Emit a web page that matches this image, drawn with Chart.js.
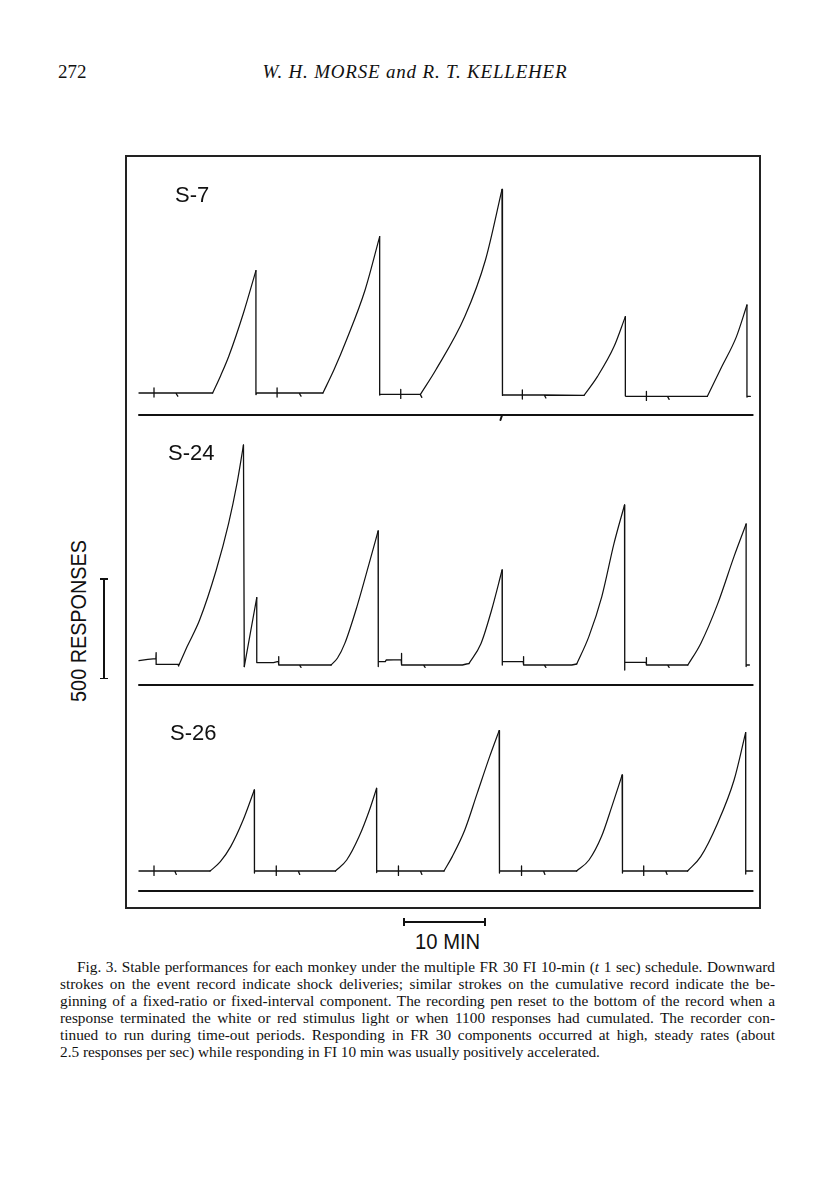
<!DOCTYPE html>
<html>
<head>
<meta charset="utf-8">
<script src="https://cdn.jsdelivr.net/npm/chart.js@4.4.1/dist/chart.umd.min.js"></script>
<style>
  body { margin: 0; background: #fff; }
  #page { position: relative; width: 816px; height: 1200px; overflow: hidden; color: #111; font-family: "Liberation Serif", serif; }
  .abs { position: absolute; }
  #folio { left: 58px; top: 62px; font-size: 19px; line-height: 1; }
  #running { left: 0; width: 830px; top: 62px; text-align: center; font-size: 19px; line-height: 1; font-style: italic; letter-spacing: 0.8px; }
  #frame { left: 125px; top: 155px; width: 636px; height: 754px; border: 2px solid #222; box-sizing: border-box; }
  .subject { font-family: "Liberation Sans", Arial, sans-serif; font-size: 22px; line-height: 1; }
  #ylabel { left: 79px; top: 621px; font-family: "Liberation Sans", Arial, sans-serif; font-size: 22px; line-height: 1; white-space: nowrap;
            transform: translate(-50%, -50%) rotate(-90deg) scaleX(0.9); }
  #xlabel { left: 415px; top: 931px; font-family: "Liberation Sans", Arial, sans-serif; font-size: 22px; line-height: 1; white-space: nowrap;
            transform: scaleX(0.92); transform-origin: left top; }
  .bar { background: #111; }
  #caption { left: 60px; top: 958px; width: 715px; font-size: 15.3px; line-height: 17px; }
  #caption div { white-space: nowrap; text-align: justify; text-align-last: justify; }
  #caption div.last { text-align-last: left; }
</style>
</head>
<body>
<div id="page">
  <div id="folio" class="abs">272</div>
  <div id="running" class="abs">W. H. MORSE and R. T. KELLEHER</div>

  <div id="frame" class="abs"></div>
  <canvas id="chart-s7" class="abs" width="635" height="270" style="left:125px;top:155px"></canvas>
  <canvas id="chart-s24" class="abs" width="635" height="265" style="left:125px;top:425px"></canvas>
  <canvas id="chart-s26" class="abs" width="635" height="215" style="left:125px;top:690px"></canvas>

  <div class="abs subject" style="left:175px;top:184px">S-7</div>
  <div class="abs subject" style="left:168px;top:442px">S-24</div>
  <div class="abs subject" style="left:170px;top:722px">S-26</div>

  <div id="ylabel" class="abs">500 RESPONSES</div>
  <div class="abs bar" style="left:103px;top:579px;width:1.5px;height:100px"></div>
  <div class="abs bar" style="left:100px;top:578px;width:8px;height:1.5px"></div>
  <div class="abs bar" style="left:100px;top:677.5px;width:8px;height:1.5px"></div>

  <div class="abs bar" style="left:403px;top:921px;width:82px;height:1.5px"></div>
  <div class="abs bar" style="left:403px;top:918px;width:1.5px;height:8px"></div>
  <div class="abs bar" style="left:484px;top:918px;width:1.5px;height:8px"></div>
  <div id="xlabel" class="abs">10 MIN</div>

  <div id="caption" class="abs">
    <div style="padding-left:17px">Fig. 3. Stable performances for each monkey under the multiple FR 30 FI 10-min (<i>t</i> 1 sec) schedule. Downward</div>
    <div>strokes on the event record indicate shock deliveries; similar strokes on the cumulative record indicate the be-</div>
    <div>ginning of a fixed-ratio or fixed-interval component. The recording pen reset to the bottom of the record when a</div>
    <div>response terminated the white or red stimulus light or when 1100 responses had cumulated. The recorder con-</div>
    <div>tinued to run during time-out periods. Responding in FR 30 components occurred at high, steady rates (about</div>
    <div class="last">2.5 responses per sec) while responding in FI 10 min was usually positively accelerated.</div>
  </div>
</div>

<script>
// Cumulative records, [minutes, cumulative responses].
// "ramps" = responding within a component (pen climbs), "gaps" = pen at the
// bottom after a reset, with the small strokes marking component starts.

// S-7
const s7Ramps = [
  [[8.98, 0], [9.97, 88], [10.96, 185], [12.74, 400], [14.26, 612]],
  [[22.43, 0], [23.82, 120], [25.3, 265], [27.57, 515], [29.35, 782]],
  [[34.32, -7], [36.19, 115], [39.73, 382], [42.25, 665], [44.27, 1018]],
  [[54.27, -12], [55.9, 82], [57.93, 232], [59.31, 382]],
  [[69.3, -17], [71.08, 132], [72.86, 282], [74.14, 440]]
];
const s7Gaps = [
  [[0, 0], [1.83, 0], [1.83, 25], [1.83, -20], [1.83, 0], [4.48, 0], [4.73, -16], [4.48, 0]],
  [[14.26, -8], [14.37, 0], [16.84, 0], [16.84, 25], [16.84, -20], [16.84, 0], [19.52, 0], [19.76, -16], [19.52, 0]],
  [[29.35, -10], [29.45, -7], [31.92, -7], [31.92, 18], [31.92, -27], [31.92, -7], [34.3, -7], [34.49, -22], [34.3, -7]],
  [[44.27, -12], [44.38, -10], [46.75, -10], [46.75, 15], [46.75, -30], [46.75, -10], [49.42, -10], [49.62, -25], [49.42, -10]],
  [[59.31, -15], [59.41, -17], [61.88, -17], [61.88, 8], [61.88, -37], [61.88, -17], [64.45, -17], [64.65, -32], [64.45, -17]],
  [[74.14, -20], [74.24, -17], [74.55, -17]]
];
const s7Events = [[0, -110], [44.28, -110], [44.08, -135], [44.28, -110], [74.84, -110]];

// S-24
const s24Ramps = [
  [[4.9, -12], [5.87, 77], [7.39, 210], [9.42, 460], [10.93, 693], [11.95, 893], [12.74, 1085]],
  [[12.84, -23], [14.36, 322]],
  [[23.42, -15], [24.21, 20], [25.1, 93], [26.58, 277], [28.07, 493], [29.16, 655]],
  [[40.23, -8], [41.71, 93], [43.0, 260], [44.28, 460]],
  [[53.38, -10], [54.86, 127], [56.44, 327], [57.93, 593], [59.21, 785]],
  [[66.93, -15], [68.51, 93], [70.59, 293], [72.56, 527], [74.04, 690]]
];
const s24Gaps = [
  [[0, 7], [1.07, 13], [2.06, 17], [2.09, 47], [2.09, -12], [4.76, -12], [4.83, -20], [4.88, -12]],
  [],
  [[14.36, -3], [16.4, -3], [17.0, 3], [17.04, 27], [17.04, -15], [19.56, -15], [19.76, -27], [19.56, -15]],
  [[29.16, -23], [29.2, 2], [30.04, 2], [30.14, 10], [31.97, 12], [32.02, 43], [32.02, -15], [34.69, -15],
   [34.89, -27], [34.69, -15], [39.44, -15], [39.93, -10]],
  [[44.28, -15], [44.33, 2], [46.85, 2], [46.9, 27], [46.9, -15], [49.42, -15], [49.62, -27], [49.42, -15], [52.78, -15]],
  [[59.21, -40], [59.26, -2], [61.83, -2], [61.88, 22], [61.88, -15], [64.45, -15], [64.65, -27], [64.45, -15]],
  [[74.04, -23], [74.04, -15], [74.44, -15]]
];
const s24Events = [[0, -115], [74.84, -115]];

// S-26
const s26Ramps = [
  [[8.66, 0], [8.91, 8], [9.92, 47], [11.18, 122], [12.7, 255], [14.06, 405]],
  [[23.96, 0], [25.33, 55], [26.84, 172], [28.11, 305], [28.97, 413]],
  [[37.2, 0], [38.2, 72], [39.73, 205], [41.24, 388], [42.76, 572], [43.92, 702]],
  [[53.37, 0], [54.88, 55], [56.4, 172], [57.66, 322], [58.92, 480]],
  [[66.9, 0], [68.5, 72], [70.55, 238], [72.57, 455], [73.98, 692]]
];
const s26Gaps = [
  [[0, 0], [1.83, 0], [1.83, 25], [1.83, -22], [1.83, 0], [4.36, 0], [4.55, -17], [4.36, 0]],
  [[14.06, -10], [14.1, 0], [16.74, 0], [16.74, 25], [16.74, -22], [16.74, 0], [19.42, 0], [19.6, -17], [19.42, 0]],
  [[28.97, -8], [29.0, 0], [31.64, 0], [31.64, 25], [31.64, -22], [31.64, 0], [34.32, 0], [34.5, -17], [34.32, 0]],
  [[43.92, -10], [44.0, 0], [46.65, 0], [46.65, 25], [46.65, -22], [46.65, 0], [49.33, 0], [49.5, -17], [49.33, 0]],
  [[58.92, -10], [59.0, 0], [61.55, 0], [61.55, 25], [61.55, -22], [61.55, 0], [64.23, 0], [64.4, -17], [64.23, 0]],
  [[73.98, -15], [74.0, 0], [74.84, 0]]
];
const s26Events = [[0, -100], [74.84, -100]];

// Scale: 10 min = 82 px, 500 responses = 100 px
const PX_PER_MIN = 8.2;
const RESP_PER_PX = 5;
const RECORD_START_PX = 14;   // record origin, from left edge of canvas
const INK = '#111';

function toPoints(pairs) {
  return pairs.map(([x, y]) => ({ x, y }));
}

function pen(pairs, width, smooth) {
  const ds = { data: toPoints(pairs), showLine: true, borderColor: INK, borderWidth: width,
               pointRadius: 0, tension: 0, borderCapStyle: 'round', borderJoinStyle: 'round' };
  if (smooth) ds.cubicInterpolationMode = 'monotone';
  return ds;
}

function buildDatasets(ramps, gaps, events) {
  const datasets = [];
  // pen at the bottom: joins the previous peak (reset stroke) to the next ramp start
  gaps.forEach((gap, i) => {
    const pts = [];
    if (i > 0) pts.push(ramps[i - 1][ramps[i - 1].length - 1]);
    pts.push(...gap);
    if (i < ramps.length) pts.push(ramps[i][0]);
    datasets.push(pen(pts, 1.3, false));
  });
  ramps.forEach(r => datasets.push(pen(r, 1.2, true)));
  datasets.push(pen(events, 2, false));
  return datasets;
}

function drawRecord(canvasId, ramps, gaps, events, baselinePx) {
  const canvas = document.getElementById(canvasId);
  const w = canvas.width, h = canvas.height;
  return new Chart(canvas.getContext('2d'), {
    type: 'scatter',
    data: { datasets: buildDatasets(ramps, gaps, events) },
    options: {
      responsive: false,
      animation: false,
      events: [],
      clip: false,
      layout: { padding: 0 },
      plugins: { legend: { display: false }, tooltip: { enabled: false } },
      scales: {
        x: { type: 'linear', display: false,
             min: -RECORD_START_PX / PX_PER_MIN, max: (w - RECORD_START_PX) / PX_PER_MIN },
        y: { type: 'linear', display: false,
             min: -(h - baselinePx) * RESP_PER_PX, max: baselinePx * RESP_PER_PX }
      }
    }
  });
}

drawRecord('chart-s7', s7Ramps, s7Gaps, s7Events, 238);
drawRecord('chart-s24', s24Ramps, s24Gaps, s24Events, 237);
drawRecord('chart-s26', s26Ramps, s26Gaps, s26Events, 181);
</script>
</body>
</html>
